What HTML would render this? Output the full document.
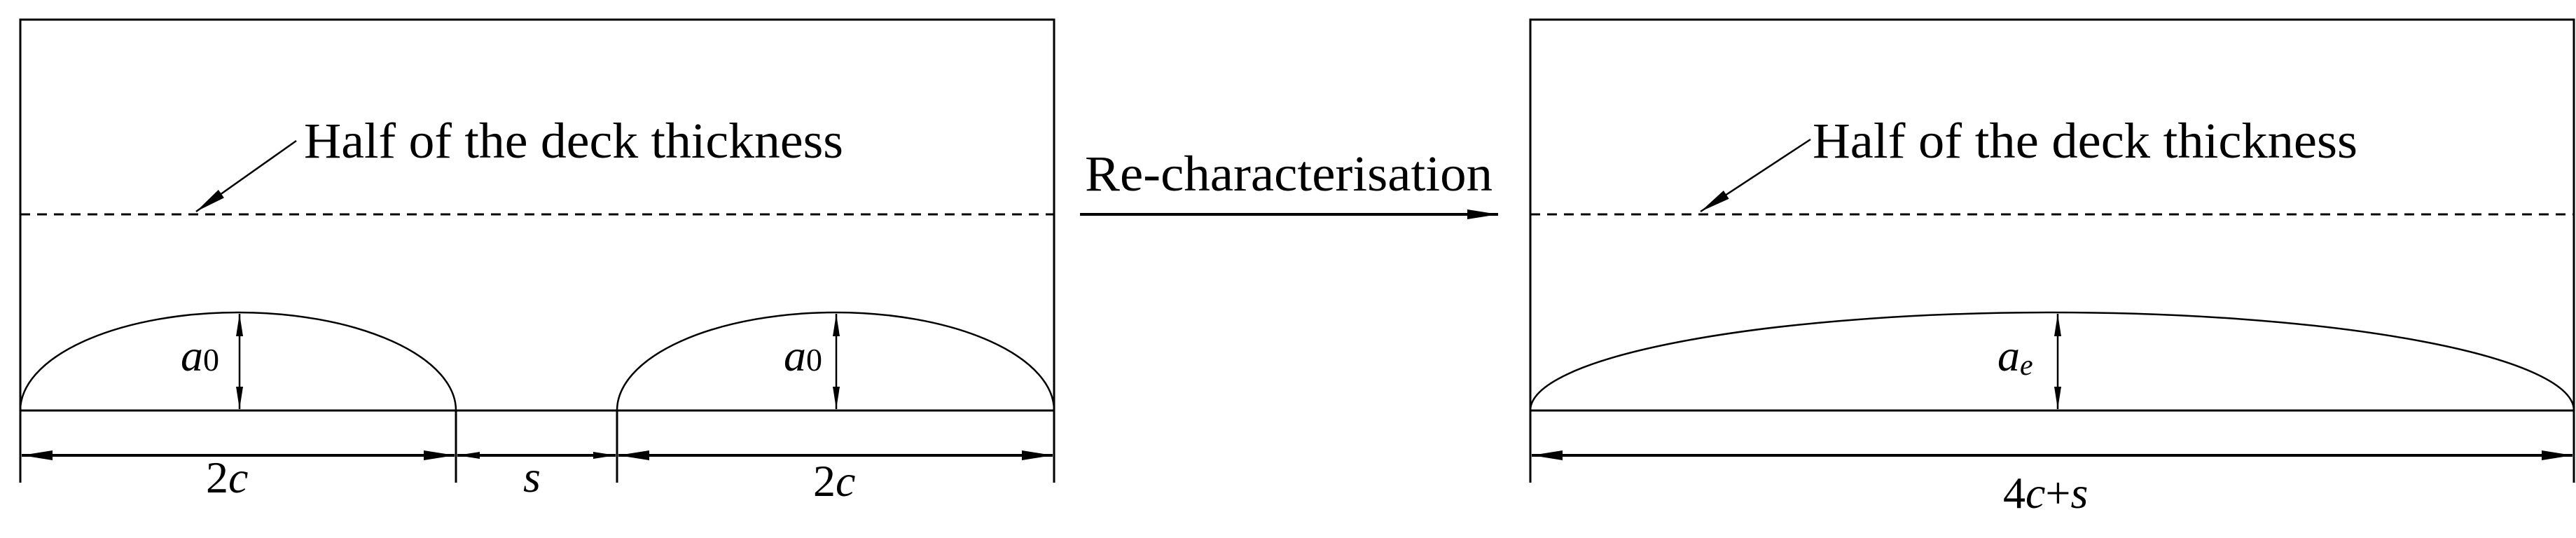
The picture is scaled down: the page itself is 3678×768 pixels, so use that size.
<!DOCTYPE html>
<html><head><meta charset="utf-8"><style>
html,body{margin:0;padding:0;background:#fff;}
svg{display:block;}
text{font-family:"Liberation Serif","Times New Roman",serif;fill:#000;}
</style></head><body>
<svg width="3678" height="768" viewBox="0 0 3678 768" xmlns="http://www.w3.org/2000/svg">
<defs>
<marker id="ah" viewBox="0 0 44 16" refX="44" refY="8" markerWidth="44" markerHeight="16" markerUnits="userSpaceOnUse" orient="auto-start-reverse">
<path d="M0,1 L44,8 L0,15 Z" fill="#000"/>
</marker>
<marker id="ahs" viewBox="0 0 32 12" refX="32" refY="6" markerWidth="32" markerHeight="12" markerUnits="userSpaceOnUse" orient="auto-start-reverse">
<path d="M0,1 L32,6 L0,11 Z" fill="#000"/>
</marker>
</defs>
<g stroke="#000" fill="none" stroke-width="3">
<path d="M29,689 V28 H1505 V689"/>
<line x1="29" y1="306" x2="1505" y2="306" stroke-dasharray="14,10"/>
<line x1="29" y1="586" x2="1505" y2="586"/>
<path d="M29,586 A311,140 0 0 1 651,586" stroke-width="2.5"/>
<path d="M881,586 A312,140 0 0 1 1505,586" stroke-width="2.5"/>
<line x1="651" y1="586" x2="651" y2="689"/>
<line x1="881" y1="586" x2="881" y2="689"/>
<line x1="31" y1="650" x2="649" y2="650" stroke-width="4" marker-start="url(#ah)" marker-end="url(#ah)"/>
<line x1="653" y1="650" x2="879" y2="650" stroke-width="4" marker-start="url(#ahs)" marker-end="url(#ahs)"/>
<line x1="883" y1="650" x2="1503" y2="650" stroke-width="4" marker-start="url(#ah)" marker-end="url(#ah)"/>
<line x1="342" y1="448" x2="342" y2="584" stroke-width="2.5" marker-start="url(#ahs)" marker-end="url(#ahs)"/>
<line x1="1194" y1="448" x2="1194" y2="584" stroke-width="2.5" marker-start="url(#ahs)" marker-end="url(#ahs)"/>
<line x1="423" y1="201" x2="280" y2="302" stroke-width="2.5" marker-end="url(#ah)"/>
<line x1="1542" y1="306" x2="2139" y2="306" stroke-width="4" marker-end="url(#ah)"/>
<path d="M2185,689 V28 H3675 V689"/>
<line x1="2185" y1="306" x2="3675" y2="306" stroke-dasharray="14,10"/>
<line x1="2185" y1="586" x2="3675" y2="586"/>
<path d="M2185,586 A745,140 0 0 1 3675,586" stroke-width="2.5"/>
<line x1="2187" y1="650" x2="3673" y2="650" stroke-width="4" marker-start="url(#ah)" marker-end="url(#ah)"/>
<line x1="2938" y1="448" x2="2938" y2="584" stroke-width="2.5" marker-start="url(#ahs)" marker-end="url(#ahs)"/>
<line x1="2585" y1="199" x2="2428" y2="302" stroke-width="2.5" marker-end="url(#ah)"/>
</g>
<g font-size="72">
<text x="434" y="225" textLength="770" lengthAdjust="spacingAndGlyphs">Half of the deck thickness</text>
<text x="2588" y="225" textLength="778" lengthAdjust="spacingAndGlyphs">Half of the deck thickness</text>
<text x="1549" y="272" textLength="582" lengthAdjust="spacingAndGlyphs">Re-characterisation</text>
</g>
<g font-size="64">
<text x="258" y="529" font-style="italic">a<tspan font-style="normal" font-size="46">0</tspan></text>
<text x="1119" y="529" font-style="italic">a<tspan font-style="normal" font-size="46">0</tspan></text>
<text x="2852" y="529" font-style="italic">a<tspan font-size="42" dy="6">e</tspan></text>
<text x="294" y="703">2<tspan font-style="italic">c</tspan></text>
<text x="747" y="702" font-style="italic">s</text>
<text x="1161" y="708">2<tspan font-style="italic">c</tspan></text>
<text x="2860" y="725">4<tspan font-style="italic">c</tspan>+<tspan font-style="italic">s</tspan></text>
</g>
</svg>
</body></html>
